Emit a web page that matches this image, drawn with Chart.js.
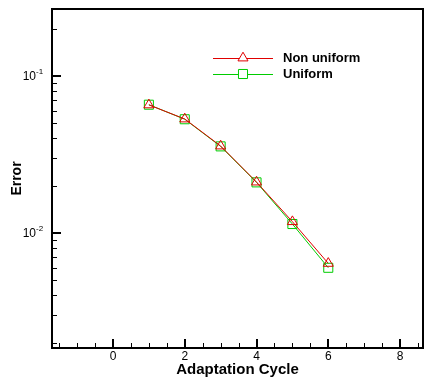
<!DOCTYPE html>
<html lang="en">
<head>
    <meta charset="UTF-8">
    <title>Error vs Adaptation Cycle</title>
    <style>
        body {
            margin: 0;
            background-color: #ffffff;
        }
        #chartContainer {
            width: 426px;
            height: 391px;
        }
    </style>
</head>
<body>
    <div id="chartContainer">
        <canvas id="errorChart" width="426" height="391"></canvas>
    </div>
<script src="https://cdn.jsdelivr.net/npm/chart.js"></script>
<script>
    // Data
    const cycles = [1, 2, 3, 4, 5, 6];
    const nonUniform = [0.0654, 0.0532, 0.0358, 0.0211, 0.0118, 0.0064];
    const uniform = [0.0656, 0.0530, 0.0356, 0.0210, 0.0114, 0.0060];

    // Axis ticks
    const xTickLabels = [0, 2, 4, 6, 8];
    const yTickValues = [0.01, 0.1];
    const yTickExponents = ['-2', '-1'];

    const FONT = 'Arial, "Liberation Sans", sans-serif';

    // Draws box, inward ticks, tick labels, axis titles and the legend
    const framePlugin = {
        id: 'frame',
        afterDatasetsDraw(chart) {
            const ctx = chart.ctx;
            const area = chart.chartArea;
            const xs = chart.scales.x;
            const ys = chart.scales.y;
            ctx.save();
            ctx.strokeStyle = '#000';

            // ticks on the x axis (major every 2, minor every 0.5)
            ctx.lineWidth = 1;
            ctx.beginPath();
            for (let v = -1.5; v <= xs.max; v += 0.5) {
                const px = Math.round(xs.getPixelForValue(v)) + 0.5;
                const len = (v % 2 === 0) ? 9 : 5;
                ctx.moveTo(px, area.bottom);
                ctx.lineTo(px, area.bottom - len);
            }
            // ticks on the y axis (decades and 2..9 in between)
            for (let d = -3; d <= -1; d++) {
                for (let m = 1; m <= 9; m++) {
                    const v = m * Math.pow(10, d);
                    if (v < ys.min || v > ys.max) continue;
                    const py = Math.round(ys.getPixelForValue(v)) + 0.5;
                    const len = (m === 1) ? 9 : 5;
                    ctx.moveTo(area.left, py);
                    ctx.lineTo(area.left + len, py);
                }
            }
            ctx.stroke();
            ctx.lineWidth = 2;
            ctx.beginPath();
            for (const v of yTickValues) {
                const py = Math.round(ys.getPixelForValue(v));
                ctx.moveTo(area.left, py);
                ctx.lineTo(area.left + 9, py);
            }
            for (const v of xTickLabels) {
                const px = Math.round(xs.getPixelForValue(v));
                ctx.moveTo(px, area.bottom);
                ctx.lineTo(px, area.bottom - 9);
            }
            ctx.stroke();

            // box
            ctx.lineWidth = 2;
            ctx.strokeRect(area.left, area.top, area.right - area.left, area.bottom - area.top);

            // tick labels
            ctx.fillStyle = '#000';
            ctx.font = '12px ' + FONT;
            ctx.textAlign = 'center';
            ctx.textBaseline = 'middle';
            xTickLabels.forEach(v => {
                ctx.fillText(String(v), xs.getPixelForValue(v), 357);
            });
            yTickValues.forEach((v, i) => {
                const py = ys.getPixelForValue(v);
                ctx.font = '12px ' + FONT;
                ctx.textAlign = 'right';
                ctx.fillText('10', 36, py + 1);
                ctx.font = '8px ' + FONT;
                ctx.textAlign = 'left';
                ctx.fillText(yTickExponents[i], 36, py - 4);
            });

            // axis titles
            ctx.font = 'bold 15px ' + FONT;
            ctx.textAlign = 'center';
            ctx.fillText('Adaptation Cycle', (area.left + area.right) / 2, 370);
            ctx.save();
            ctx.font = 'bold 14px ' + FONT;
            ctx.translate(17, (area.top + area.bottom) / 2);
            ctx.rotate(-Math.PI / 2);
            ctx.fillText('Error', 0, 0);
            ctx.restore();

            // legend
            const rows = [
                { ds: chart.data.datasets[0], y: 58 },
                { ds: chart.data.datasets[1], y: 74 }
            ];
            rows.forEach(row => {
                ctx.strokeStyle = row.ds.borderColor;
                ctx.lineWidth = 1;
                ctx.beginPath();
                ctx.moveTo(213, row.y + 0.5);
                ctx.lineTo(273, row.y + 0.5);
                ctx.stroke();
                ctx.fillStyle = '#fff';
                Chart.helpers.drawPoint(ctx, {
                    pointStyle: row.ds.pointStyle,
                    radius: row.ds.pointRadius,
                    borderWidth: 1
                }, 243, row.y);
                ctx.fillStyle = '#000';
                ctx.font = 'bold 13px ' + FONT;
                ctx.textAlign = 'left';
                ctx.fillText(row.ds.label, 283, row.y);
            });
            ctx.restore();
        }
    };

    new Chart(document.getElementById('errorChart').getContext('2d'), {
        type: 'line',
        data: {
            labels: cycles,
            datasets: [{
                label: 'Non uniform',
                data: cycles.map((c, i) => ({ x: c, y: nonUniform[i] })),
                borderColor: '#e00000',
                backgroundColor: 'rgba(0,0,0,0)',
                borderWidth: 1,
                pointStyle: 'triangle',
                pointRadius: 5.8,
                pointBorderWidth: 1,
                tension: 0
            }, {
                label: 'Uniform',
                data: cycles.map((c, i) => ({ x: c, y: uniform[i] })),
                borderColor: '#00cc00',
                backgroundColor: 'rgba(0,0,0,0)',
                borderWidth: 1,
                pointStyle: 'rect',
                pointRadius: 6.4,
                pointBorderWidth: 1,
                tension: 0
            }]
        },
        options: {
            responsive: false,
            animation: false,
            devicePixelRatio: 1,
            layout: {
                autoPadding: false,
                padding: { left: 52, top: 9, right: 3, bottom: 43 }
            },
            plugins: {
                legend: { display: false },
                tooltip: { enabled: false }
            },
            scales: {
                x: {
                    type: 'linear',
                    display: false,
                    min: -1.7,
                    max: 8.64
                },
                y: {
                    type: 'logarithmic',
                    display: false,
                    min: 0.00185,
                    max: 0.267
                }
            }
        },
        plugins: [framePlugin]
    });
</script>
</body>
</html>
